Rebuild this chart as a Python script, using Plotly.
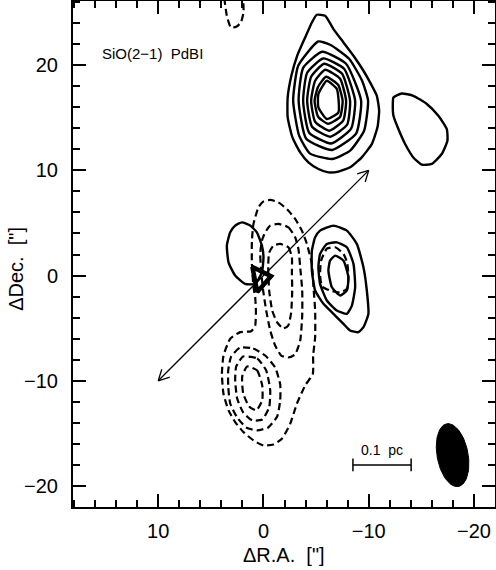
import numpy as np
import plotly.graph_objects as go

# ---------------- data (arcsec offsets) ----------------
# solid (red-shifted) contours, northern clump, outer -> inner
RED_N1_X = [-5.07, -5.86, -6.65, -7.60, -8.55, -9.50, -10.13, -10.77, -10.99, -10.83, -10.29, -9.34, -8.23,
            -7.12, -6.17, -5.22, -4.27, -3.49, -2.75, -2.30, -2.30, -2.65, -3.20, -3.96, -4.60]
RED_N1_Y = [24.79, 24.69, 23.43, 22.16, 20.89, 19.47, 18.36, 17.09, 15.67, 14.09, 12.50, 11.24, 10.29,
            9.88, 9.81, 10.13, 10.76, 11.71, 13.14, 15.04, 16.94, 18.99, 20.89, 22.63, 24.06]
RED_N2_X = [-5.19, -6.33, -8.14, -9.37, -9.94, -9.56, -8.23, -6.52, -4.43, -3.39, -2.82, -3.30]
RED_N2_Y = [22.25, 21.94, 20.61, 18.52, 16.62, 13.77, 11.87, 11.08, 11.59, 13.30, 16.62, 19.94]
RED_N3_X = [-5.57, -7.85, -9.28, -8.80, -6.52, -4.06, -3.34, -3.77]
RED_N3_Y = [21.27, 20.13, 16.62, 13.49, 11.94, 13.01, 16.62, 19.75]
RED_N4_X = [-5.67, -7.66, -8.71, -8.33, -6.43, -4.34, -3.77, -4.15]
RED_N4_Y = [20.64, 19.66, 16.62, 13.96, 12.56, 13.58, 16.62, 19.28]
RED_N5_X = [-5.76, -7.47, -8.23, -7.95, -6.33, -4.62, -4.15, -4.53]
RED_N5_Y = [20.13, 19.18, 16.62, 14.34, 13.20, 14.15, 16.62, 18.90]
RED_N6_X = [-5.86, -7.28, -7.85, -7.57, -6.24, -4.91, -4.53, -4.91]
RED_N6_Y = [19.56, 18.71, 16.62, 14.72, 13.77, 14.62, 16.62, 18.52]
RED_N7_X = [-5.95, -7.09, -7.52, -7.28, -6.14, -5.19, -4.86, -5.19]
RED_N7_Y = [18.90, 18.14, 16.62, 15.10, 14.43, 15.10, 16.62, 17.95]
RED_N8_X = [-6.02, -6.97, -7.12, -6.02, -5.22, -5.22]
RED_N8_Y = [18.52, 17.73, 15.51, 14.88, 15.98, 17.26]

# solid, eastern small clump
RED_E_X = [-12.35, -13.14, -14.24, -15.52, -16.62, -17.42, -17.48, -16.94, -15.99, -15.04, -14.24, -13.46,
           -12.82, -12.35, -12.29]
RED_E_Y = [16.93, 17.31, 17.09, 16.31, 15.19, 13.93, 12.82, 11.56, 10.61, 10.54, 11.23, 12.51,
           13.93, 15.19, 16.31]

# solid, central-west clump (outer -> inner)
RED_C1_X = [-5.38, -6.65, -7.92, -8.87, -9.50, -9.82, -9.97, -9.50, -9.02, -8.23, -7.60, -6.65, -5.70,
            -4.91, -4.60, -4.60, -4.91]
RED_C1_Y = [4.27, 4.75, 4.27, 3.01, 0.79, -1.42, -3.64, -4.91, -5.38, -5.22, -4.59, -3.64, -2.69,
            -1.42, 0.47, 2.37, 3.64]
RED_C2_X = [-6.02, -6.97, -7.92, -8.55, -8.71, -8.40, -7.92, -6.97, -6.02, -5.38, -5.22, -5.38]
RED_C2_Y = [3.01, 3.16, 2.69, 1.11, -1.11, -2.85, -3.64, -3.32, -2.37, -0.79, 0.79, 2.06]
RED_C3_X = [-6.81, -7.60, -8.07, -7.92, -7.28, -6.50, -6.17, -6.33]
RED_C3_Y = [1.90, 1.42, -0.16, -1.42, -1.90, -1.11, 0.47, 1.42]

# solid, small clump next to the source
RED_S_X = [2.05, 1.26, 0.63, 0.15, 0.00, 0.15, 0.79, 1.74, 2.69, 3.32, 3.48, 3.16, 2.69]
RED_S_Y = [5.06, 4.75, 4.11, 2.85, 1.74, 0.31, -0.79, -0.79, 0.00, 1.26, 2.85, 4.11, 4.75]

# dashed (blue-shifted) contours
BLUE_1_X = [-0.64, -1.42, -2.37, -3.01, -3.65, -4.12, -4.60, -4.75, -4.91, -4.91, -4.72, -4.69, -3.96,
            -3.17, -2.54, -1.75, -0.95, 0.00, 0.95, 1.90, 2.69, 3.32, 3.80, 3.95, 3.80, 3.16, 2.21,
            1.17, 0.79, 0.72, 0.79, 0.95, 1.10, 1.10, 0.95, 0.47, 0.03]
BLUE_1_Y = [7.19, 6.96, 6.17, 5.38, 4.27, 3.01, 1.11, -1.11, -3.32, -5.86, -7.60, -9.34, -10.45,
            -12.19, -14.09, -15.51, -16.05, -16.15, -15.67, -14.88, -13.93, -12.82, -11.24, -9.34, -7.60,
            -6.01, -5.38, -5.29, -4.75, -3.32, -2.06, -1.11, 1.11, 3.32, 4.91, 6.49, 7.03]
BLUE_2_X = [-1.42, -2.37, -3.01, -3.32, -3.49, -3.68, -3.68, -3.49, -3.01, -2.35, -1.68, -1.11, -0.64,
            -0.26, 0.03, 0.22, 0.31, 0.15, -0.16, -0.64]
BLUE_2_Y = [4.91, 4.59, 3.64, 2.54, 0.79, -1.42, -3.80, -6.17, -7.50, -7.79, -7.60, -6.65, -5.22,
            -3.32, -1.42, 0.47, 2.06, 3.32, 4.11, 4.75]
BLUE_3_X = [-1.59, -2.37, -2.70, -2.70, -2.73, -2.63, -2.35, -1.87, -1.30, -0.83, -0.54, -0.49, -0.45,
            -0.54, -0.95]
BLUE_3_Y = [3.01, 2.69, 1.74, 0.16, -1.42, -3.51, -4.75, -5.03, -4.46, -3.32, -1.42, -0.47, 0.95,
            2.18, 2.85]
BLUE_4_X = [-6.02, -6.81, -7.60, -7.95, -8.07, -7.95, -7.28, -6.33, -5.57, -5.38, -5.48]
BLUE_4_Y = [2.56, 2.69, 2.06, 1.23, 0.00, -1.23, -1.61, -1.42, -1.04, 0.00, 1.42]
BLUE_5_X = [2.21, 0.98, -0.16, -1.11, -1.59, -1.59, -1.30, -0.45, 0.60, 1.64, 2.50, 3.16, 3.35, 3.35, 3.07]
BLUE_5_Y = [-6.84, -6.93, -7.60, -8.74, -10.35, -11.87, -13.39, -14.44, -14.72, -14.44, -13.49, -12.16,
            -10.54, -9.02, -7.69]
BLUE_6_X = [1.93, 0.60, -0.26, -0.64, -0.54, 0.12, 1.07, 1.93, 2.50, 2.69, 2.59]
BLUE_6_Y = [-7.69, -7.88, -9.02, -10.92, -12.54, -13.68, -13.77, -13.01, -11.68, -9.97, -8.64]
BLUE_7_X = [1.55, 0.60, 0.12, 0.12, 0.69, 1.36, 1.93, 2.02]
BLUE_7_Y = [-8.64, -9.02, -10.45, -11.87, -12.82, -12.44, -11.21, -9.59]
# open fragment at the top edge
BLUE_TOP_X = [3.73, 3.48, 3.10, 2.59, 2.15, 1.90, 1.93]
BLUE_TOP_Y = [26.4, 24.69, 23.58, 23.65, 24.06, 25.00, 26.4]

SOURCE_X = [0.31]
SOURCE_Y = [-0.27]

ARROW_TAIL = (10.0, -10.0)
ARROW_TIP = (-10.0, 10.0)

BEAM_CENTER = (-17.97, -17.07)
BEAM_MAJ, BEAM_MIN, BEAM_PA = 6.06, 2.94, 10.5

SCALEBAR_X = [-8.5, -14.03]
SCALEBAR_Y = [-18.0, -18.0]
SCALEBAR_LABEL = "0.1  pc"

X_RANGE = [18.1, -22.0]
Y_RANGE = [-22.0, 26.1]
X_TICKS = [10, 0, -10, -20]
Y_TICKS = [-20, -10, 0, 10, 20]

FONT = "Liberation Sans"

fig = go.Figure()


def closed(xs, ys):
    return list(xs) + [xs[0]], list(ys) + [ys[0]]


solid = [(RED_N1_X, RED_N1_Y), (RED_N2_X, RED_N2_Y), (RED_N3_X, RED_N3_Y), (RED_N4_X, RED_N4_Y),
         (RED_N5_X, RED_N5_Y), (RED_N6_X, RED_N6_Y), (RED_N7_X, RED_N7_Y), (RED_N8_X, RED_N8_Y),
         (RED_E_X, RED_E_Y), (RED_C1_X, RED_C1_Y), (RED_C2_X, RED_C2_Y), (RED_C3_X, RED_C3_Y),
         (RED_S_X, RED_S_Y)]
dashed = [(BLUE_1_X, BLUE_1_Y), (BLUE_2_X, BLUE_2_Y), (BLUE_3_X, BLUE_3_Y), (BLUE_4_X, BLUE_4_Y),
          (BLUE_5_X, BLUE_5_Y), (BLUE_6_X, BLUE_6_Y), (BLUE_7_X, BLUE_7_Y)]

for xs, ys in solid:
    cx, cy = closed(xs, ys)
    fig.add_trace(go.Scatter(x=cx, y=cy, mode="lines",
                             line=dict(color="black", width=2.4, shape="spline", smoothing=0.5),
                             hoverinfo="skip", showlegend=False))
for xs, ys in dashed:
    cx, cy = closed(xs, ys)
    fig.add_trace(go.Scatter(x=cx, y=cy, mode="lines",
                             line=dict(color="black", width=2.2, dash="7px,4px", shape="spline", smoothing=0.5),
                             hoverinfo="skip", showlegend=False))
fig.add_trace(go.Scatter(x=BLUE_TOP_X, y=BLUE_TOP_Y, mode="lines",
                         line=dict(color="black", width=2.2, dash="7px,4px", shape="spline", smoothing=0.5),
                         hoverinfo="skip", showlegend=False))

# arrow (double-headed) from data endpoints
tx, ty = ARROW_TAIL
hx, hy = ARROW_TIP
fig.add_trace(go.Scatter(x=[tx, hx], y=[ty, hy], mode="lines",
                         line=dict(color="black", width=1.3), hoverinfo="skip", showlegend=False))
L = 1.15
ang = np.deg2rad(28)
d = np.array([hx - tx, hy - ty])
d = d / np.hypot(*d)
for (px, py), dd in [((hx, hy), d), ((tx, ty), -d)]:
    for s in (1, -1):
        c, sn = np.cos(s * ang), np.sin(s * ang)
        r = np.array([c * dd[0] - sn * dd[1], sn * dd[0] + c * dd[1]])
        fig.add_trace(go.Scatter(x=[px - L * r[0], px], y=[py - L * r[1], py], mode="lines",
                                 line=dict(color="black", width=1.3), hoverinfo="skip", showlegend=False))

# source marker
fig.add_trace(go.Scatter(x=SOURCE_X, y=SOURCE_Y, mode="markers",
                         marker=dict(symbol="triangle-right-open", size=22, angle=-11,
                                     color="black", line=dict(color="black", width=4.5)),
                         hoverinfo="skip", showlegend=False))

# beam ellipse
t = np.linspace(0, 2 * np.pi, 90)
pa = np.deg2rad(BEAM_PA)
a, b = BEAM_MAJ / 2, BEAM_MIN / 2
ex = BEAM_CENTER[0] + a * np.cos(t) * np.sin(pa) + b * np.sin(t) * np.cos(pa)
ey = BEAM_CENTER[1] + a * np.cos(t) * np.cos(pa) - b * np.sin(t) * np.sin(pa)
fig.add_trace(go.Scatter(x=ex, y=ey, mode="lines", fill="toself", fillcolor="black",
                         line=dict(color="black", width=1), hoverinfo="skip", showlegend=False))

# scale bar
fig.add_trace(go.Scatter(x=SCALEBAR_X, y=SCALEBAR_Y, mode="lines+markers",
                         line=dict(color="black", width=1.5),
                         marker=dict(symbol="line-ns-open", size=9, color="black", line=dict(width=1.5, color="black")),
                         hoverinfo="skip", showlegend=False))
fig.add_annotation(x=sum(SCALEBAR_X) / 2, y=SCALEBAR_Y[0], text=SCALEBAR_LABEL, showarrow=False,
                   yanchor="bottom", yshift=5, font=dict(family=FONT, size=14, color="black"))

fig.add_annotation(x=15.5, y=21.1, text="SiO(2\u22121)  PdBI", showarrow=False, xanchor="left",
                   font=dict(family=FONT, size=15, color="black"))

# axis titles
fig.add_annotation(xref="paper", yref="paper", x=0.499, y=-0.095, text="\u0394R.A.  [\"]", showarrow=False,
                   xanchor="center", yanchor="middle", font=dict(family=FONT, size=20, color="black"))
fig.add_annotation(xref="paper", yref="paper", x=-0.137, y=0.471, text="\u0394Dec.  [\"]", showarrow=False,
                   textangle=-90, xanchor="center", yanchor="middle", font=dict(family=FONT, size=20, color="black"))

axis_common = dict(showline=True, linecolor="black", linewidth=2, mirror="allticks", ticks="inside",
                   ticklen=13, tickwidth=1.5, tickcolor="black", showgrid=False, zeroline=False,
                   tickfont=dict(family=FONT, size=20, color="black"),
                   minor=dict(ticks="inside", ticklen=7, tickwidth=1.5, tickcolor="black", dtick=2, tick0=0,
                              showgrid=False))
fig.update_xaxes(range=X_RANGE, tickvals=X_TICKS, ticktext=[str(v).replace("-", "\u2212") for v in X_TICKS],
                 ticklabelstandoff=5, **axis_common)
fig.update_yaxes(range=Y_RANGE, tickvals=Y_TICKS, ticktext=[str(v).replace("-", "\u2212") for v in Y_TICKS],
                 ticklabelstandoff=9, **axis_common)

fig.update_layout(width=496, height=570, margin=dict(l=73, r=1, t=1, b=63, autoexpand=False),
                  paper_bgcolor="white", plot_bgcolor="white", showlegend=False)

fig.write_html("out.html", config={"displayModeBar": False},
               post_script="document.body.style.margin='0';document.body.style.padding='0';")
